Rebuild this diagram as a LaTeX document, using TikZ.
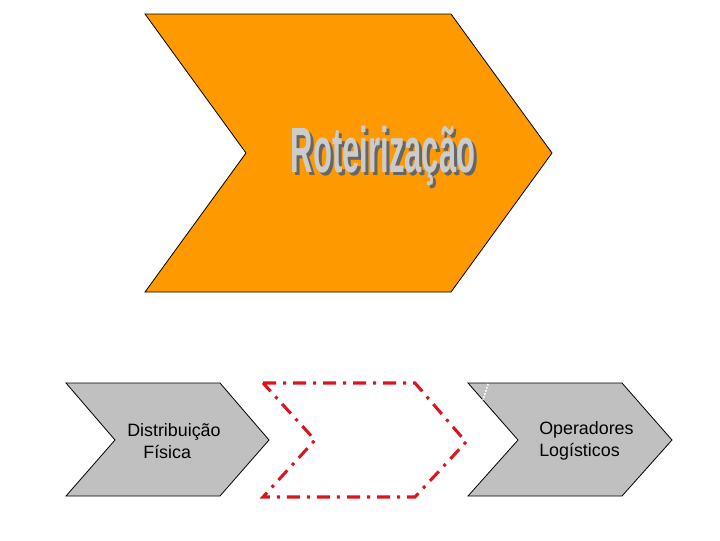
\documentclass[tikz,border=0pt]{standalone}
\usepackage{fontspec}
\setmainfont{Liberation Sans}
\usepackage{tikz}
\usetikzlibrary{calc}

\definecolor{chevorange}{RGB}{255,153,0}
\definecolor{chevgray}{RGB}{192,192,192}
\definecolor{dashred}{RGB}{220,20,30}

\tikzset{
  chevron/.style={draw=black, line width=0.6pt, line join=miter},
  dashchev/.style={draw=dashred, line width=2.3pt, dash pattern=on 9.75pt off 5.25pt on 2.25pt off 5.25pt},
  steplabel/.style={anchor=west, inner sep=0.75pt, align=left, font=\fontsize{13.4}{16.5}\selectfont},
  wordart/.style={inner sep=0pt, xscale=0.485, font=\bfseries\fontsize{48}{52}\selectfont}
}

\begin{document}
\begin{tikzpicture}[x=0.75pt,y=0.75pt,yscale=-1,xscale=1]
\useasboundingbox (0,0) rectangle (720,540);

%Shape: big chevron
\draw [chevron, fill=chevorange] (145,14) -- (451,14) -- (552,153) -- (451,292) -- (145,292) -- (246,153) -- cycle ;

%Shape: left chevron
\draw [chevron, fill=chevgray] (66,383) -- (220,383) -- (269,440) -- (220,496) -- (66,496) -- (115,440) -- cycle ;

%Shape: dashed chevron
\draw [dashchev] (263,383) -- (415,383) -- (466,442) -- (415,497) -- (263,497) -- (315,440) -- cycle ;

%Shape: right chevron
\draw [chevron, fill=chevgray] (468,383) -- (622,383) -- (672,440) -- (622,496) -- (468,496) -- (518,440) -- cycle ;
%Straight Lines
\draw [white, line width=1.2pt, dash pattern=on 1.2pt off 1.2pt] (488,384) -- (483,400) ;

% Text Node (shadow, then face)
\node (titleshadow) [wordart, text=black!60] at (386,159) {Roteirização};
\node (title) [wordart, text=black!20] at (383,156) {Roteirização};
% Text Node
\node (distfis) [steplabel] at (126,441) {Distribuição\\\hspace{0.9em}Física};
% Text Node
\node (oplog) [steplabel] at (538,441) {Operadores\\Logísticos};

\end{tikzpicture}
\end{document}
